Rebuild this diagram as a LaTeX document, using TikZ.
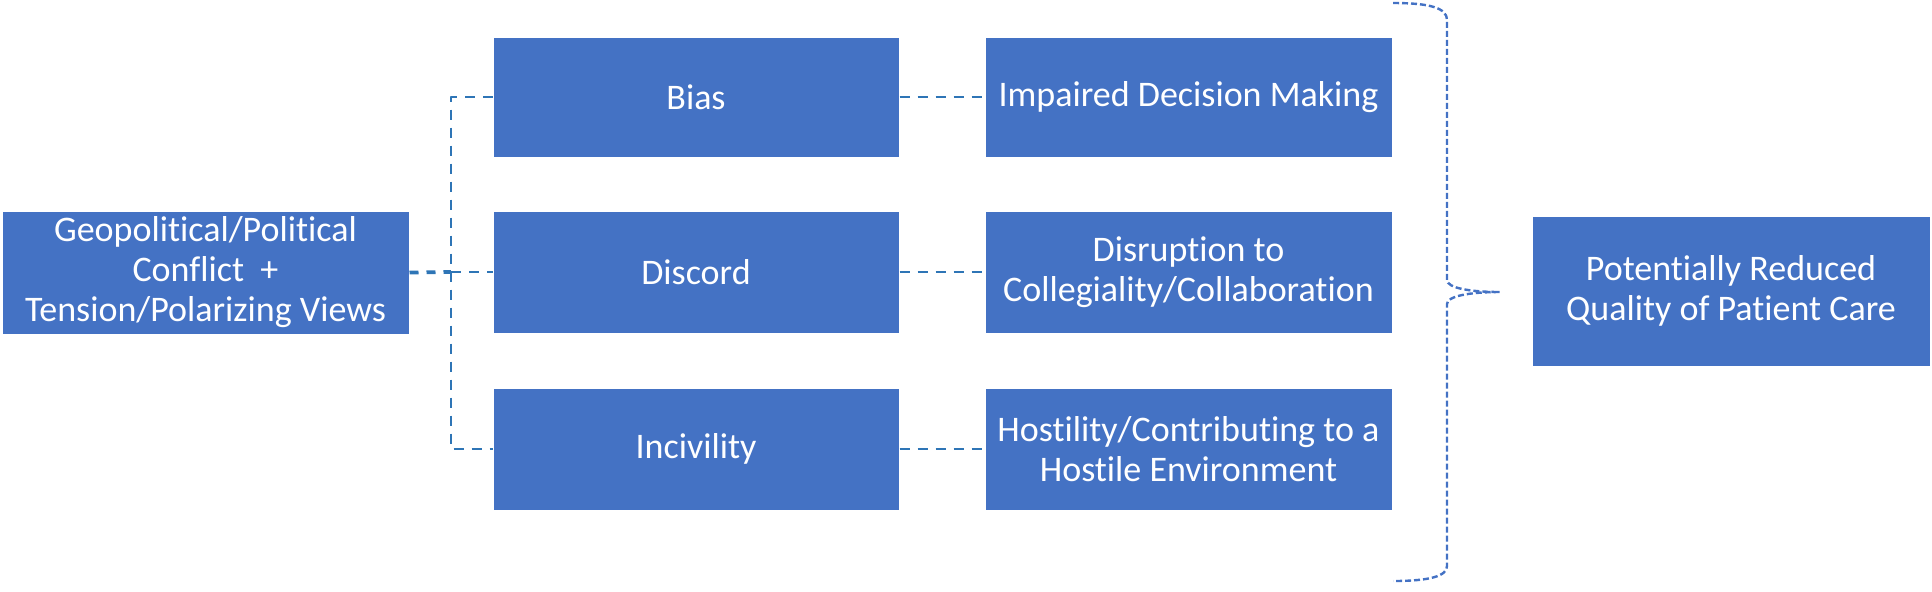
\documentclass[tikz,border=0pt]{standalone}
\usepackage{fontspec}
\setmainfont{Carlito}[Ligatures=NoCommon]
\usepackage{tikz}
\usetikzlibrary{calc}

\definecolor{boxcol}{HTML}{4472C4}
\definecolor{linkcol}{HTML}{2E75B6}

\tikzset{
  stagebox/.style={rectangle, fill=boxcol, draw=white, line width=0.5pt,
    text=white, align=center, inner sep=2pt,
    font=\fontsize{18}{20}\selectfont},
  link/.style={draw=linkcol, line width=1.4pt, dash pattern=on 5pt off 4pt},
  trunk/.style={draw=linkcol, line width=1.9pt, dash pattern=on 4.5pt off 4pt},
  bracecurve/.style={draw=boxcol, line width=1.2pt, dash pattern=on 3pt off 1.5pt}
}

\begin{document}
\begin{tikzpicture}[x=0.5pt,y=-0.5pt,line join=bevel]
  \useasboundingbox (0,0) rectangle (1932,591);
%%
% Node: source
  \node[stagebox, minimum width=203.5pt, minimum height=61.5pt] (geo) at (205.5,272.5)
    {Geopolitical/Political\\Conflict~~+\\Tension/Polarizing Views};
% Node: middle column
  \node[stagebox, minimum width=203pt, minimum height=60pt] (bias) at (696,97) {Bias};
  \node[stagebox, minimum width=203pt, minimum height=61pt] (discord) at (696,272) {Discord};
  \node[stagebox, minimum width=203pt, minimum height=61pt] (incivility) at (696,449) {Incivility};
% Node: effect column
  \node[stagebox, minimum width=203.5pt, minimum height=60pt] (impaired) at (1188.5,97)
    {Impaired Decision Making};
  \node[stagebox, minimum width=203.5pt, minimum height=61pt] (disruption) at (1188.5,272)
    {Disruption to\\Collegiality/Collaboration};
  \node[stagebox, minimum width=203.5pt, minimum height=61pt] (hostility) at (1188.5,449)
    {Hostility/Contributing to a\\Hostile Environment};
% Node: outcome
  \node[stagebox, minimum width=199pt, minimum height=75pt] (care) at (1731,291)
    {Potentially Reduced\\Quality of Patient Care};
%
  \coordinate (jn) at (451,272);
  \coordinate (tip) at (1500,292);
% Edge: geo -> middle column
  \draw[trunk] (geo.east) -- (jn);
  \draw[link] (bias.west) -- (bias.west -| jn) -- (incivility.west -| jn) -- (incivility.west);
  \draw[link] (jn) -- (discord.west);
% Edge: middle -> effect
  \foreach \a/\b in {bias/impaired, discord/disruption, incivility/hostility}
    \draw[link] (\a.east) -- (\b.west);
% Brace: effects -> outcome
  \draw[bracecurve] (1393,3) .. controls (1430,3) and (1447,8) .. (1447,20)
    -- (1447,280) .. controls (1447,288) and (1470,292) .. (tip)
    .. controls (1470,292) and (1447,296) .. (1447,304)
    -- (1447,566) .. controls (1447,576) and (1430,581) .. (1393,581);
%
\end{tikzpicture}
\end{document}
